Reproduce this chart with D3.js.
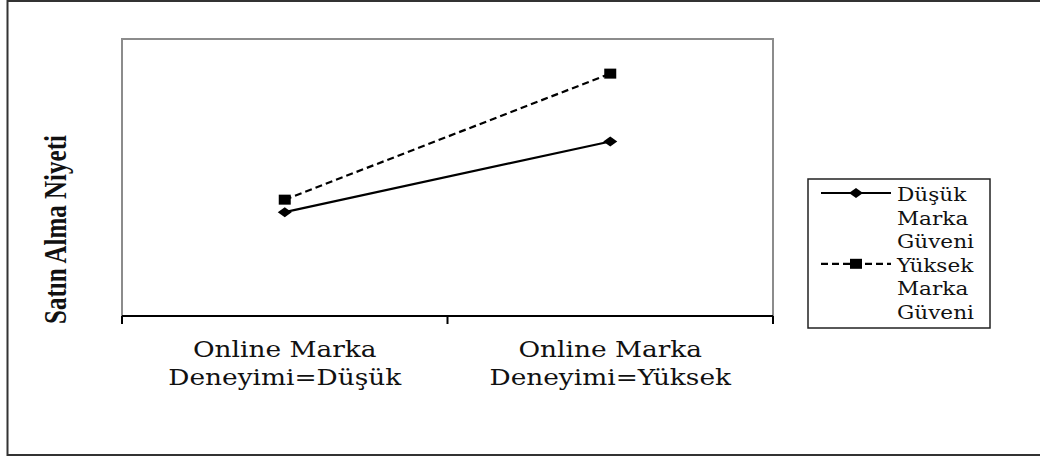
<!DOCTYPE html>
<html>
<head>
<meta charset="utf-8">
<script src="https://cdn.jsdelivr.net/npm/d3@7"></script>
<style>
  html, body { margin: 0; padding: 0; background: #fff; }
  svg { display: block; }
</style>
</head>
<body>
<svg id="chart" width="1040" height="459"></svg>
<script>
// ---- data ----
const categories = [["Online Marka", "Deneyimi=Düşük"], ["Online Marka", "Deneyimi=Yüksek"]];
const categoryKeys = ["Deneyimi=Düşük", "Deneyimi=Yüksek"];
const seriesNames = [["Düşük", "Marka", "Güveni"], ["Yüksek", "Marka", "Güveni"]];
const dusukValues = [3.25, 3.76];
const yuksekValues = [3.34, 4.25];
const yAxisTitle = "Satın Alma Niyeti";

// ---- layout ----
const svg = d3.select("#chart");
const plot = { left: 122, top: 39, right: 773, bottom: 316 };
const sx = 1.2; // horizontal stretch of the reference picture

const x = d3.scaleBand().domain(categoryKeys).range([plot.left, plot.right]).paddingInner(0).paddingOuter(0);
const y = d3.scaleLinear().domain([2.5, 4.5]).range([plot.bottom, plot.top]);
const cx = k => x(k) + x.bandwidth() / 2;

// outer border
svg.append("rect").attr("x", 7.5).attr("y", 1).attr("width", 1040).attr("height", 454)
  .attr("fill", "#fff").attr("stroke", "#333").attr("stroke-width", 2);

// plot area frame (grey)
svg.append("rect").attr("x", plot.left).attr("y", plot.top)
  .attr("width", plot.right - plot.left).attr("height", plot.bottom - plot.top)
  .attr("fill", "#fff").attr("stroke", "#8c8c8c").attr("stroke-width", 2);

// x axis
const xAxis = d3.axisBottom(x).tickSize(0).tickFormat("");
const gx = svg.append("g").attr("transform", `translate(0,${plot.bottom})`).call(xAxis);
gx.select(".domain").attr("stroke", "#000").attr("stroke-width", 2).attr("d", `M${plot.left},0H${plot.right}`);
const boundaries = categoryKeys.map(k => x(k)).concat([x(categoryKeys[categoryKeys.length - 1]) + x.bandwidth()]);
gx.selectAll(".bt").data(boundaries).join("line").attr("class", "bt")
  .attr("x1", d => d).attr("x2", d => d).attr("y1", 0).attr("y2", 8)
  .attr("stroke", "#000").attr("stroke-width", 2);

// category labels
categories.forEach((lines, i) => {
  const t = svg.append("g").attr("transform", `translate(${cx(categoryKeys[i])},${plot.bottom}) scale(${sx},1)`);
  lines.forEach((ln, j) => {
    t.append("text").attr("x", 0).attr("y", 41 + j * 28)
      .attr("text-anchor", "middle").attr("font-family", "DejaVu Serif").attr("font-size", 22)
      .attr("fill", "#111").text(ln);
  });
});

// y axis title
svg.append("g").attr("transform", `translate(66,${(plot.top + plot.bottom) / 2 + 52}) scale(1.3,1) rotate(-90)`)
  .append("text").attr("text-anchor", "middle").attr("font-family", "Liberation Serif")
  .attr("font-weight", "bold").attr("font-size", 25).attr("fill", "#111").text(yAxisTitle);

// lines
const line = d3.line().x((d, i) => cx(categoryKeys[i])).y(d => y(d));
svg.append("path").datum(dusukValues).attr("d", line).attr("fill", "none")
  .attr("stroke", "#000").attr("stroke-width", 2.2);
svg.append("path").datum(yuksekValues).attr("d", line).attr("fill", "none")
  .attr("stroke", "#000").attr("stroke-width", 2.2).attr("stroke-dasharray", "7,4");

// markers
const diamond = (g, px, py) => g.append("path")
  .attr("d", `M${px - 7},${py}L${px},${py - 5}L${px + 7},${py}L${px},${py + 5}Z`).attr("fill", "#000");
const square = (g, px, py) => g.append("rect").attr("x", px - 6).attr("y", py - 5)
  .attr("width", 12).attr("height", 10).attr("fill", "#000");
dusukValues.forEach((v, i) => diamond(svg, cx(categoryKeys[i]), y(v)));
yuksekValues.forEach((v, i) => square(svg, cx(categoryKeys[i]), y(v)));

// legend
const lg = { x: 808, y: 179, w: 182, h: 149 };
svg.append("rect").attr("x", lg.x).attr("y", lg.y).attr("width", lg.w).attr("height", lg.h)
  .attr("fill", "#fff").attr("stroke", "#222").attr("stroke-width", 1.5);
const lineGap = 23.6;
seriesNames.forEach((names, i) => {
  const baseY = lg.y + 22 + i * 3 * lineGap;
  const ly = baseY - 8;
  const l = svg.append("line").attr("x1", lg.x + 13).attr("x2", lg.x + 83).attr("y1", ly).attr("y2", ly)
    .attr("stroke", "#000").attr("stroke-width", 2.2);
  if (i === 1) l.attr("stroke-dasharray", "7,4");
  if (i === 0) diamond(svg, lg.x + 48, ly); else square(svg, lg.x + 48, ly);
  names.forEach((n, j) => {
    svg.append("g").attr("transform", `translate(${lg.x + 89},${baseY + j * lineGap}) scale(${sx},1)`)
      .append("text").attr("font-family", "DejaVu Serif").attr("font-size", 18).attr("fill", "#111").text(n);
  });
});
</script>
</body>
</html>
